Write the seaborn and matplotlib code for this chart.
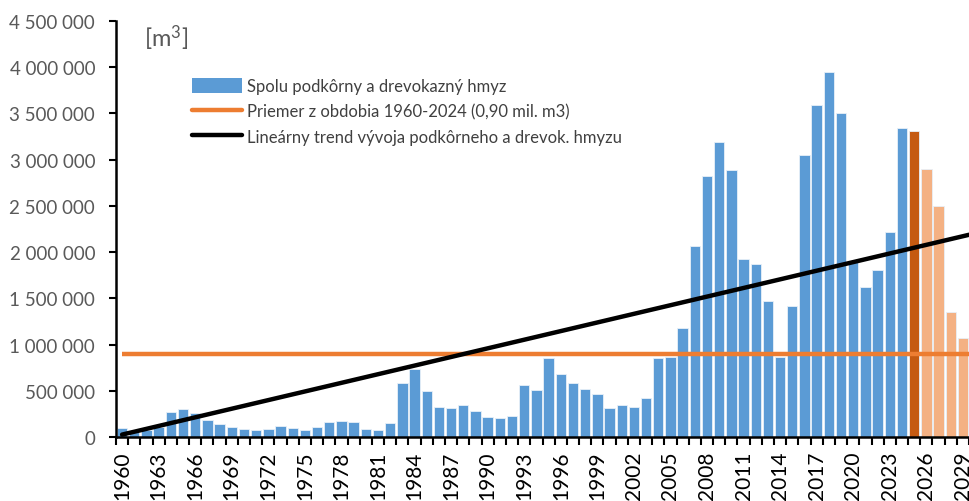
import numpy as np
import pandas as pd
import matplotlib
matplotlib.use("Agg")
import matplotlib.pyplot as plt
import seaborn as sns
from matplotlib.patches import Patch
from matplotlib.lines import Line2D
from matplotlib.ticker import FuncFormatter, MultipleLocator

# ---------------- data ----------------
years = list(range(1960, 2030))
values = [
    100000, 60000, 80000, 110000, 270000, 300000, 265000, 180000, 140000, 108000,
    83000, 80000, 83000, 116000, 94000, 72000, 108000, 159000, 170000, 166000,
    90000, 72000, 152000, 588000, 736000, 494000, 325000, 314000, 343000, 285000,
    213000, 206000, 227000, 560000, 509000, 855000, 682000, 581000, 520000, 465000,
    317000, 343000, 325000, 419000, 855000, 869000, 1178000, 2070000, 2825000, 3190000,
    2886000, 1930000, 1876000, 1475000, 866000, 1414000, 3052000, 3593000, 3950000, 3506000,
    1890000, 1620000, 1807000, 2219000, 3344000, 3315000, 2900000, 2500000, 1353000, 1071000,
]
current_year = 2025
mean_value = 900000
trend_value_1960 = 26000
trend_slope_per_year = 31100

legend_labels = [
    "Spolu podkôrny a drevokazný hmyz",
    "Priemer z obdobia 1960-2024 (0,90 mil. m3)",
    "Lineárny trend vývoja podkôrneho a drevok. hmyzu",
]
unit_label = r"[m$^{3}$]"

# ---------------- colours ----------------
c_blue = "#5B9BD5"
c_now = "#C55A11"
c_fore = "#F4B183"
c_mean = "#ED7D31"
c_trend = "#000000"

def bar_color(y):
    if y < current_year:
        return c_blue
    if y == current_year:
        return c_now
    return c_fore

df = pd.DataFrame({"year": [str(y) for y in years], "value": values})
palette = {str(y): bar_color(y) for y in years}

sns.set_theme(style="white")
plt.rcParams["font.family"] = ["Lato", "DejaVu Sans"]
plt.rcParams["mathtext.fontset"] = "custom"
plt.rcParams["mathtext.rm"] = "Lato"
plt.rcParams["mathtext.it"] = "Lato"
plt.rcParams["mathtext.default"] = "regular"

W, H = 969, 502
fig = plt.figure(figsize=(W / 100, H / 100), dpi=100)
ax = fig.add_axes([116 / W, 1 - 438 / H, (W - 116) / W, (438 - 22) / H])

sns.barplot(data=df, x="year", y="value", hue="year", palette=palette,
            legend=False, width=0.85, edgecolor="#E8F0F8", linewidth=0.6,
            saturation=1, ax=ax)

n = len(years)
x_left, x_right = -0.5, n - 0.5
ax.set_xlim(x_left, x_right)
ax.set_ylim(0, 4500000)

# mean line
ax.plot([0, x_right], [mean_value, mean_value], color=c_mean, lw=3.2,
        solid_capstyle="butt", zorder=3)
# trend line
tx = np.array([0, x_right])
ty = trend_value_1960 + trend_slope_per_year * tx
ax.plot(tx, ty, color=c_trend, lw=3.2, solid_capstyle="round", zorder=4)

# axes styling
for s in ["top", "right"]:
    ax.spines[s].set_visible(False)
for s in ["left", "bottom"]:
    ax.spines[s].set_color("black")
    ax.spines[s].set_linewidth(1.8)

ax.yaxis.set_major_locator(MultipleLocator(500000))
ax.yaxis.set_major_formatter(FuncFormatter(lambda v, p: f"{int(v):,}".replace(",", " ")))
ax.tick_params(axis="y", direction="out", length=5, width=1.5, color="black",
               labelsize=13.5, labelcolor="#595959", pad=10, left=True)

label_pos = [i for i, y in enumerate(years) if (y - years[0]) % 3 == 0]
ax.set_xticks(label_pos)
ax.set_xticklabels([str(years[i]) for i in label_pos], rotation=90, va="top")
ax.set_xticks(np.arange(-0.5, n, 1.0), minor=True)
ax.tick_params(axis="x", which="major", length=0, labelsize=15, labelcolor="black", pad=10)
ax.tick_params(axis="x", which="minor", direction="out", length=6, width=1.5,
               color="black", bottom=True)
ax.set_xlabel("")
ax.set_ylabel("")

fig.text(144 / W, 1 - 38 / H, unit_label, fontsize=17, color="#595959",
         ha="left", va="center")

handles = [
    Patch(facecolor=c_blue, edgecolor="none"),
    Line2D([0], [0], color=c_mean, lw=3.2),
    Line2D([0], [0], color=c_trend, lw=3.2),
]
leg = fig.legend(handles, legend_labels, loc="upper left",
                 bbox_to_anchor=(192 / W, 1 - 79 / H), bbox_transform=fig.transFigure,
                 frameon=False, fontsize=12, handlelength=3.0, handleheight=1.0,
                 handletextpad=0.3, labelspacing=0.55, borderpad=0, borderaxespad=0)
for t in leg.get_texts():
    t.set_color("#404040")

fig.savefig("out.png", dpi=100)
